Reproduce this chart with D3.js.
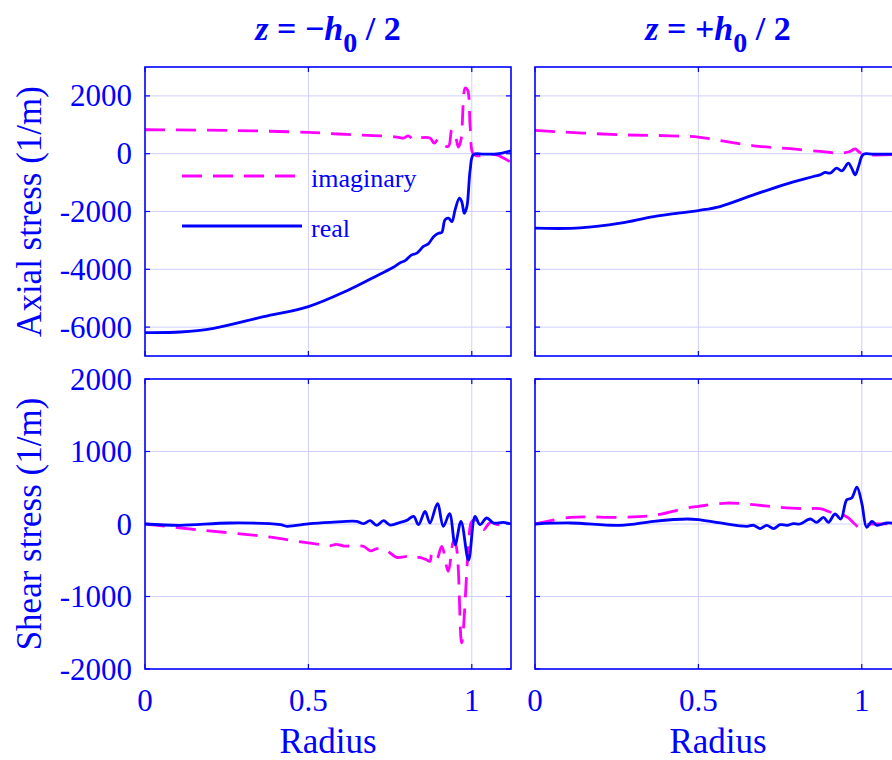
<!DOCTYPE html>
<html>
<head>
<meta charset="utf-8">
<script src="https://cdn.jsdelivr.net/npm/d3@7"></script>
<style>
  html, body { margin: 0; padding: 0; background: #fff; overflow: hidden; }
  text { font-family: "Liberation Serif", "Times New Roman", serif; fill: #0000ff; }
</style>
</head>
<body>
<svg id="chart" width="892" height="760"></svg>
<script>
// ---- data -------------------------------------------------------------
const radiusTicks = [0, 0.5, 1];
const axialTicks = [-6000, -4000, -2000, 0, 2000];
const shearTicks = [-2000, -1000, 0, 1000, 2000];
const seriesNames = ["imaginary", "real"];
const columnSigns = ["\u2212", "+"];

// [radius, stress] pairs, z = -h0/2 (lower face)
const axialLowerReal = [[0,-6190],[0.108,-6170],[0.21,-6040],[0.363,-5640],[0.5,-5290],[0.618,-4740],
  [0.72,-4160],[0.76,-3930],[0.781,-3770],[0.796,-3700],[0.816,-3500],[0.832,-3440],[0.852,-3210],
  [0.867,-3120],[0.883,-2870],[0.898,-2750],[0.908,-2730],[0.918,-2290],[0.929,-2230],[0.939,-2350],
  [0.949,-1940],[0.962,-1540],[0.969,-1650],[0.977,-2060],[0.985,-1830],[0.995,-560],[1.005,-30],
  [1.036,-15],[1.076,-10],[1.12,100]];
const axialLowerImag = [[0,828],[0.261,805],[0.5,736],[0.618,666],[0.72,620],[0.771,574],[0.791,540],
  [0.806,620],[0.822,480],[0.837,540],[0.872,540],[0.885,366],[0.898,505],[0.918,274],[0.929,251],
  [0.939,828],[0.949,655],[0.959,227],[0.967,481],[0.98,2270],[0.987,2210],[0.995,943],[1.003,20],
  [1.015,-73],[1.046,-38],[1.076,-38],[1.12,-304]];
const shearLowerReal = [[0,0],[0.108,-18],[0.261,14],[0.414,-9],[0.434,-32],[0.505,5],[0.567,23],
  [0.648,37],[0.669,5],[0.689,46],[0.709,-18],[0.73,46],[0.75,-14],[0.781,23],[0.801,50],[0.822,105],
  [0.837,-9],[0.857,174],[0.872,14],[0.895,280],[0.913,-32],[0.932,142],[0.949,-284],[0.967,37],
  [0.99,-500],[1.01,105],[1.025,-9],[1.046,83],[1.066,14],[1.097,23],[1.12,0]];
const shearLowerImag = [[0,0],[0.159,-78],[0.363,-170],[0.5,-261],[0.55,-290],[0.567,-300],[0.585,-280],
  [0.61,-305],[0.64,-300],[0.67,-310],[0.69,-370],[0.71,-340],[0.735,-350],[0.75,-400],[0.77,-460],
  [0.8,-450],[0.82,-480],[0.84,-460],[0.86,-490],[0.872,-514],[0.878,-400],[0.893,-480],[0.908,-308],
  [0.928,-652],[0.944,-240],[0.952,-300],[0.969,-1638],[0.99,-308],[1.0,36],[1.015,50],[1.036,-78],
  [1.056,20],[1.08,-10],[1.12,0]];

// z = +h0/2 (upper face)
const axialUpperReal = [[0,-2578],[0.138,-2570],[0.261,-2405],[0.363,-2174],[0.5,-1966],[0.566,-1828],
  [0.669,-1424],[0.771,-1043],[0.822,-881],[0.852,-789],[0.872,-731],[0.888,-650],[0.903,-673],
  [0.923,-500],[0.939,-592],[0.959,-327],[0.969,-500],[0.98,-731],[0.99,-442],[1.005,-20],
  [1.036,-15],[1.12,-15]];
const axialUpperImag = [[0,805],[0.261,655],[0.414,620],[0.5,574],[0.566,458],[0.669,274],[0.771,181],
  [0.872,77],[0.934,20],[0.964,77],[0.98,170],[0.99,77],[1.005,-20],[1.12,-20]];
const shearUpperReal = [[0,0],[0.108,14],[0.261,-18],[0.363,37],[0.465,69],[0.5,60],[0.567,14],
  [0.648,-32],[0.669,-18],[0.689,-64],[0.709,-18],[0.73,-64],[0.75,-9],[0.771,-18],[0.791,5],[0.811,0],
  [0.842,69],[0.862,23],[0.883,92],[0.898,23],[0.918,138],[0.936,69],[0.954,335],[0.969,358],
  [0.985,509],[1.0,289],[1.015,-46],[1.031,37],[1.046,-18],[1.076,14],[1.12,0]];
const shearUpperImag = [[0,0],[0.108,92],[0.261,92],[0.363,119],[0.465,220],[0.5,243],[0.587,289],
  [0.669,266],[0.74,234],[0.822,211],[0.872,211],[0.913,151],[0.934,142],[0.959,83],[0.975,14],
  [0.995,-55],[1.015,-9],[1.036,0],[1.12,0]];

// ---- layout -----------------------------------------------------------
const BLUE = "#0000ff", MAGENTA = "#ff00ff", GRID = "#cfcfff";
const DASH = "20,11", LINE_W = 2.8;
const colLeft = [145, 535], panelW = 366;
const rows = [
  { top: 67, height: 289, domain: [-7000, 3000], ticks: axialTicks, label: "Axial stress (1/m)" },
  { top: 379, height: 290, domain: [-2000, 2000], ticks: shearTicks, label: "Shear stress (1/m)" }
];
const panels = [
  { row: 0, col: 0, imag: axialLowerImag, real: axialLowerReal },
  { row: 0, col: 1, imag: axialUpperImag, real: axialUpperReal },
  { row: 1, col: 0, imag: shearLowerImag, real: shearLowerReal },
  { row: 1, col: 1, imag: shearUpperImag, real: shearUpperReal }
];

const svg = d3.select("#chart");
const tickLen = 5;

panels.forEach((p, i) => {
  const R = rows[p.row];
  const x0 = colLeft[p.col];
  const x = d3.scaleLinear().domain([0, 1.12]).range([x0, x0 + panelW]);
  const y = d3.scaleLinear().domain(R.domain).range([R.top + R.height, R.top]);
  const g = svg.append("g");

  g.append("clipPath").attr("id", "clip" + i)
    .append("rect").attr("x", x0).attr("y", R.top).attr("width", panelW).attr("height", R.height);

  // grid
  g.selectAll(".vgrid").data(radiusTicks.filter(t => t > 0)).join("line")
    .attr("x1", d => x(d)).attr("x2", d => x(d))
    .attr("y1", R.top).attr("y2", R.top + R.height)
    .attr("stroke", GRID).attr("stroke-width", 1);
  g.selectAll(".hgrid").data(R.ticks.filter(t => t > R.domain[0] && t < R.domain[1])).join("line")
    .attr("y1", d => y(d)).attr("y2", d => y(d))
    .attr("x1", x0).attr("x2", x0 + panelW)
    .attr("stroke", GRID).attr("stroke-width", 1);

  // curves
  const line = d3.line().x(d => x(d[0])).y(d => y(d[1])).curve(d3.curveCatmullRom.alpha(0.5));
  const plot = g.append("g").attr("clip-path", `url(#clip${i})`);
  plot.append("path").datum(p.imag).attr("d", line)
    .attr("fill", "none").attr("stroke", MAGENTA).attr("stroke-width", LINE_W)
    .attr("stroke-dasharray", DASH);
  plot.append("path").datum(p.real).attr("d", line)
    .attr("fill", "none").attr("stroke", BLUE).attr("stroke-width", LINE_W)
    .attr("stroke-linejoin", "round");

  // box
  g.append("rect").attr("x", x0).attr("y", R.top).attr("width", panelW).attr("height", R.height)
    .attr("fill", "none").attr("stroke", BLUE).attr("stroke-width", 1.6);

  // inward ticks on all four sides
  const xt = g.append("g");
  radiusTicks.forEach(t => {
    xt.append("line").attr("x1", x(t)).attr("x2", x(t)).attr("y1", R.top + R.height).attr("y2", R.top + R.height - tickLen)
      .attr("stroke", BLUE).attr("stroke-width", 1.2);
    xt.append("line").attr("x1", x(t)).attr("x2", x(t)).attr("y1", R.top).attr("y2", R.top + tickLen)
      .attr("stroke", BLUE).attr("stroke-width", 1.2);
  });
  R.ticks.forEach(t => {
    xt.append("line").attr("x1", x0).attr("x2", x0 + tickLen).attr("y1", y(t)).attr("y2", y(t))
      .attr("stroke", BLUE).attr("stroke-width", 1.2);
    xt.append("line").attr("x1", x0 + panelW).attr("x2", x0 + panelW - tickLen).attr("y1", y(t)).attr("y2", y(t))
      .attr("stroke", BLUE).attr("stroke-width", 1.2);
  });

  // y tick labels and label on left column
  if (p.col === 0) {
    g.selectAll(".ylab").data(R.ticks).join("text")
      .attr("x", x0 - 13).attr("y", d => y(d)).attr("dy", "0.34em")
      .attr("text-anchor", "end").attr("font-size", 31)
      .text(d => String(d));
    g.append("text")
      .attr("transform", `translate(41,${R.top + R.height / 2}) rotate(-90)`)
      .attr("text-anchor", "middle").attr("font-size", 35)
      .text(R.label);
  }
  // x tick labels and label on bottom row
  if (p.row === 1) {
    g.selectAll(".xlab").data(radiusTicks).join("text")
      .attr("x", d => x(d)).attr("y", 711)
      .attr("text-anchor", "middle").attr("font-size", 31)
      .text(d => String(d));
    g.append("text").attr("x", x0 + panelW / 2).attr("y", 753)
      .attr("text-anchor", "middle").attr("font-size", 35).text("Radius");
  }
  // column titles
  if (p.row === 0) {
    const t = g.append("text").attr("x", x0 + panelW / 2).attr("y", 40)
      .attr("text-anchor", "middle").attr("font-size", 34).attr("font-weight", "bold");
    t.append("tspan").attr("font-style", "italic").text("z");
    t.append("tspan").text(" = " + columnSigns[p.col]);
    t.append("tspan").attr("font-style", "italic").text("h");
    t.append("tspan").attr("dy", 12).attr("font-size", 28).text("0");
    t.append("tspan").attr("dy", -12).text(" / 2");
  }
});

// legend (top-left panel)
const legend = svg.append("g");
const legendRows = [
  { name: seriesNames[0], color: MAGENTA, dash: DASH, y: 176, x2: 297 },
  { name: seriesNames[1], color: BLUE, dash: null, y: 226, x2: 302 }
];
legendRows.forEach(r => {
  legend.append("line").attr("x1", 182).attr("x2", r.x2).attr("y1", r.y).attr("y2", r.y)
    .attr("stroke", r.color).attr("stroke-width", LINE_W).attr("stroke-dasharray", r.dash);
  legend.append("text").attr("x", 311).attr("y", r.y + 11).attr("font-size", 26).text(r.name);
});
</script>
</body>
</html>
